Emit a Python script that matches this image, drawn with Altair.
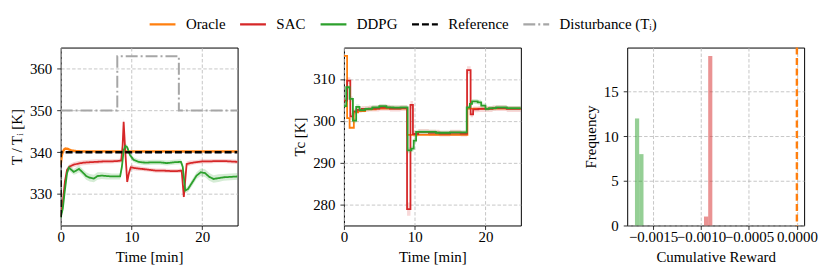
import altair as alt
import pandas as pd

FONT = "'Liberation Serif', 'DejaVu Serif', serif"
FS = 15
SERIES = ["Oracle", "SAC", "DDPG", "Reference", "Disturbance (Tᵢ)"]
COLORS = ["#ff7f0e", "#d62728", "#2ca02c", "#000000", "#a6a6a6"]
DASHES = [[1, 0], [1, 0], [1, 0], [7, 3], [12, 3, 2, 3]]

# ---------- Panel 1: reactor temperature T [K] ----------
oracle_t = [0, 0.15, 0.3, 0.5, 0.7, 1.0, 1.4, 2.0, 3.0, 25]
oracle_v = [337.0, 339.2, 340.1, 340.7, 340.9, 340.8, 340.5, 340.3, 340.2, 340.2]

sac_t = [0, 0.3, 0.6, 0.9, 1.3, 1.8, 2.5, 3.2, 4.0, 5.0, 6.0, 7.0, 8.0, 8.55,
         8.75, 8.9, 9.1, 9.4, 9.65, 9.9, 10.5, 11.5, 12.5, 13.5, 14.5, 15.5,
         16.5, 17.1, 17.4, 17.8, 18.3, 19.0, 20.0, 21.0, 22.0, 23.0, 24.0, 25]
sac_v = [324.6, 328.0, 333.0, 335.8, 336.6, 337.0, 337.3, 337.5, 337.6, 337.7,
         337.8, 337.8, 337.9, 338.0, 341.5, 347.3, 341.0, 332.9, 335.0, 336.4,
         336.2, 336.0, 335.8, 335.6, 335.6, 335.5, 335.5, 335.6, 329.3, 337.2,
         337.4, 337.6, 337.8, 337.8, 337.9, 337.9, 337.8, 337.7]
sac_sd = [0.3, 0.5, 0.6, 0.6, 0.6, 0.6, 0.6, 0.6, 0.6, 0.6,
          0.5, 0.5, 0.5, 0.5, 0.6, 0.8, 0.7, 0.6, 0.6, 0.6,
          0.6, 0.5, 0.5, 0.5, 0.5, 0.5, 0.5, 0.5, 0.6, 0.6,
          0.6, 0.5, 0.5, 0.5, 0.5, 0.5, 0.5, 0.5]

ddpg_t = [0, 0.3, 0.6, 0.9, 1.15, 1.5, 1.85, 2.2, 2.6, 3.1, 3.6, 4.1, 4.7,
          5.2, 5.8, 6.5, 7.2, 7.9, 8.4, 8.65, 8.9, 9.15, 9.4, 9.8, 10.3,
          11.0, 12.0, 13.0, 14.0, 15.0, 16.0, 17.0, 17.25, 17.6, 18.0, 18.6,
          19.2, 19.8, 20.4, 21.0, 21.6, 22.3, 23.0, 24.0, 25]
ddpg_v = [324.3, 326.5, 331.0, 335.0, 336.3, 335.8, 335.3, 335.6, 336.0, 335.2,
          334.3, 333.9, 333.7, 334.3, 334.4, 334.3, 334.2, 334.2, 334.2, 336.5,
          340.5, 341.5, 341.2, 339.3, 338.2, 337.7, 337.5, 337.6, 337.6, 337.4,
          337.6, 337.7, 336.5, 330.8, 331.2, 332.8, 334.4, 335.2, 335.0, 334.1,
          333.6, 333.8, 334.0, 334.1, 334.2]
ddpg_sd = [0.3, 0.5, 0.7, 0.7, 0.7, 0.7, 0.7, 0.8, 0.8, 0.8,
           0.9, 0.9, 0.9, 0.9, 0.8, 0.8, 0.7, 0.7, 0.7, 0.7,
           0.6, 0.6, 0.6, 0.6, 0.6, 0.6, 0.6, 0.6, 0.6, 0.6,
           0.6, 0.6, 0.6, 0.6, 0.7, 0.8, 0.8, 0.9, 0.9, 0.9,
           0.9, 0.9, 0.8, 0.8, 0.8]

ref_t = [0, 0, 25]
ref_v = [324.5, 340.0, 340.0]

dist_t = [0, 8.0, 16.7, 25]
dist_v = [350.0, 363.0, 350.0, 350.0]

# ---------- Panel 2: coolant temperature Tc [K] (step signals) ----------
oracle_tc_t = [0, 0.45, 0.8, 1.4, 2.0, 3.0, 4.5, 8.95, 17.45, 25]
oracle_tc_v = [315.5, 300.6, 298.3, 302.0, 302.3, 302.7, 302.9, 296.6, 302.9, 302.9]

sac_tc_t = [0, 0.45, 0.9, 1.3, 1.8, 2.5, 3.5, 5.0, 6.5, 8.0, 8.92, 9.4, 9.75,
            10.5, 12.0, 13.5, 15.0, 16.5, 17.4, 17.9, 18.25, 19.0, 21.0, 23.0, 25]
sac_tc_v = [304.8, 309.6, 301.0, 302.2, 302.6, 302.8, 302.9, 303.1, 302.9, 303.0,
            278.8, 303.8, 296.8, 297.3, 297.1, 296.9, 297.1, 296.9, 312.1, 301.5,
            302.7, 302.8, 303.0, 302.8, 302.9]
sac_tc_sd = [0.6, 0.8, 0.8, 0.7, 0.7, 0.7, 0.7, 0.7, 0.7, 0.7,
             1.6, 0.9, 0.7, 0.7, 0.7, 0.7, 0.7, 0.7, 0.9, 0.7,
             0.7, 0.7, 0.7, 0.7, 0.7]

ddpg_tc_t = [0, 0.33, 0.8, 1.27, 1.73, 2.2, 3.0, 4.0, 5.0, 6.0, 7.0, 8.0, 9.0,
             9.54, 9.86, 10.2, 11.0, 13.0, 15.0, 17.35, 17.8, 18.1, 18.9, 19.4,
             20.0, 20.5, 21.5, 23.0, 25]
ddpg_tc_v = [303.5, 308.0, 305.2, 300.0, 303.3, 302.5, 302.8, 303.2, 303.5, 303.2,
             303.1, 303.2, 292.9, 293.3, 295.2, 297.3, 297.3, 297.1, 297.2, 303.2,
             304.0, 304.6, 304.4, 303.6, 302.8, 303.0, 303.2, 303.0, 303.0]
ddpg_tc_sd = [0.5, 0.6, 0.6, 0.6, 0.6, 0.5, 0.5, 0.5, 0.5, 0.5,
              0.5, 0.5, 0.7, 0.7, 0.6, 0.5, 0.5, 0.5, 0.5, 0.6,
              0.6, 0.6, 0.6, 0.5, 0.5, 0.5, 0.5, 0.5, 0.5]

# ---------- Panel 3: histogram of cumulative reward ----------
hist_series = ["DDPG", "DDPG", "SAC", "SAC"]
hist_start = [-0.001689, -0.001645, -0.000969, -0.000925]
hist_end = [-0.001645, -0.001600, -0.000925, -0.000882]
hist_count = [12, 8, 1, 19]
oracle_reward = [0.0]


def frame(name, t, v, sd=None):
    d = pd.DataFrame({"series": name, "t": t, "v": v, "i": list(range(len(t)))})
    if sd is not None:
        d["lo"] = [a - b for a, b in zip(v, sd)]
        d["hi"] = [a + b for a, b in zip(v, sd)]
    return d


W, H = 178, 179

legend = alt.Legend(
    title=None, orient="none", legendX=88, legendY=-38, direction="horizontal",
    symbolType="stroke", symbolSize=676, symbolStrokeWidth=2.2,
    labelFont=FONT, labelFontSize=FS, labelColor="black", labelOffset=9,
    columnPadding=10, padding=0,
)
color = alt.Color("series:N", scale=alt.Scale(domain=SERIES, range=COLORS), legend=legend)
dash = alt.StrokeDash("series:N", scale=alt.Scale(domain=SERIES, range=DASHES), legend=legend)
fill = alt.Fill("series:N", scale=alt.Scale(domain=SERIES, range=COLORS), legend=None)

# Panel 1
x1 = alt.X("t:Q", scale=alt.Scale(domain=[0, 25], nice=False, zero=False),
           axis=alt.Axis(values=[0, 10, 20], title="Time [min]"))
y1 = alt.Y("v:Q", scale=alt.Scale(domain=[322.45, 365.1], nice=False, zero=False),
           axis=alt.Axis(values=[330, 340, 350, 360], title="T / Tᵢ [K]"))
y1lo = alt.Y("lo:Q", scale=alt.Scale(domain=[322.45, 365.1], nice=False, zero=False),
             axis=alt.Axis(values=[330, 340, 350, 360], title="T / Tᵢ [K]"))


def line1(df, width, interp="linear"):
    return alt.Chart(df).mark_line(strokeWidth=width, clip=True, interpolate=interp).encode(
        x=x1, y=y1, color=color, strokeDash=dash, order="i:Q")


def band1(df):
    return alt.Chart(df).mark_area(opacity=0.2, clip=True).encode(
        x=x1, y=y1lo, y2="hi:Q", fill=fill)


sac1 = frame("SAC", sac_t, sac_v, sac_sd)
ddpg1 = frame("DDPG", ddpg_t, ddpg_v, ddpg_sd)
p1 = alt.layer(
    line1(frame("Oracle", oracle_t, oracle_v), 2.4),
    band1(sac1), line1(sac1, 1.8),
    band1(ddpg1), line1(ddpg1, 1.8),
    line1(frame("Reference", ref_t, ref_v), 2.4),
    line1(frame("Disturbance (Tᵢ)", dist_t, dist_v), 2.0, "step-after"),
).properties(width=W, height=H)

# Panel 2
x2 = alt.X("t:Q", scale=alt.Scale(domain=[0, 25], nice=False, zero=False),
           axis=alt.Axis(values=[0, 10, 20], title="Time [min]"))
y2 = alt.Y("v:Q", scale=alt.Scale(domain=[274.9, 317.5], nice=False, zero=False),
           axis=alt.Axis(values=[280, 290, 300, 310], title="Tc [K]"))
y2lo = alt.Y("lo:Q", scale=alt.Scale(domain=[274.9, 317.5], nice=False, zero=False),
             axis=alt.Axis(values=[280, 290, 300, 310], title="Tc [K]"))
color2 = alt.Color("series:N", scale=alt.Scale(domain=SERIES, range=COLORS), legend=None)


def line2(df):
    return alt.Chart(df).mark_line(strokeWidth=1.8, clip=True, interpolate="step-after").encode(
        x=x2, y=y2, color=color2, order="i:Q")


def band2(df):
    return alt.Chart(df).mark_area(opacity=0.18, clip=True, interpolate="step-after").encode(
        x=x2, y=y2lo, y2="hi:Q", fill=fill)


sac2 = frame("SAC", sac_tc_t, sac_tc_v, sac_tc_sd)
ddpg2 = frame("DDPG", ddpg_tc_t, ddpg_tc_v, ddpg_tc_sd)
p2 = alt.layer(
    line2(frame("Oracle", oracle_tc_t, oracle_tc_v)),
    band2(sac2), line2(sac2),
    band2(ddpg2), line2(ddpg2),
).properties(width=W, height=H)

# Panel 3
hist = pd.DataFrame({"series": hist_series, "x0": hist_start, "x1": hist_end,
                     "count": hist_count})
xs3 = alt.Scale(domain=[-0.00177, 0.0000755], nice=False, zero=False)
ys3 = alt.Scale(domain=[0, 19.95], nice=False, zero=False)
bars = alt.Chart(hist).mark_rect(opacity=0.5).encode(
    x=alt.X("x0:Q", scale=xs3,
            axis=alt.Axis(values=[-0.0015, -0.001, -0.0005, 0.0], format=".4f",
                          labelOverlap=False, labelFlush=False,
                          title="Cumulative Reward")),
    x2="x1:Q",
    y=alt.Y("count:Q", scale=ys3,
            axis=alt.Axis(values=[0, 5, 10, 15], format="d", title="Frequency")),
    y2=alt.datum(0),
    color=color2,
)
orc = alt.Chart(pd.DataFrame({"r": oracle_reward, "series": ["Oracle"]})).mark_rule(
    strokeWidth=2.4, strokeDash=[7, 3.5]).encode(
    x=alt.X("r:Q", scale=xs3), y=alt.value(0), y2=alt.value(H), color=color2)
p3 = alt.layer(bars, orc).properties(width=W, height=H)

chart = alt.hconcat(p1, p2, p3, spacing=107, bounds="flush").resolve_scale(
    color="independent", strokeDash="independent", fill="independent"
).resolve_legend(color="independent", strokeDash="independent").properties(
    padding={"left": 1, "top": 0, "right": 5, "bottom": 5}
).configure_view(stroke="black", strokeWidth=1).configure_axis(
    labelFont=FONT, titleFont=FONT, labelFontSize=FS, titleFontSize=FS,
    titleFontWeight="normal", labelColor="black", titleColor="black",
    tickColor="black", tickSize=4, tickWidth=0.8, domain=False,
    gridColor="#b8b8b8", gridDash=[3.5, 2], gridWidth=0.8,
).configure_axisX(labelPadding=0, titlePadding=5, labelFlush=False).configure_axisY(
    labelPadding=5, titlePadding=5)

chart.save("out.html", embed_options={"renderer": "svg", "actions": False})
